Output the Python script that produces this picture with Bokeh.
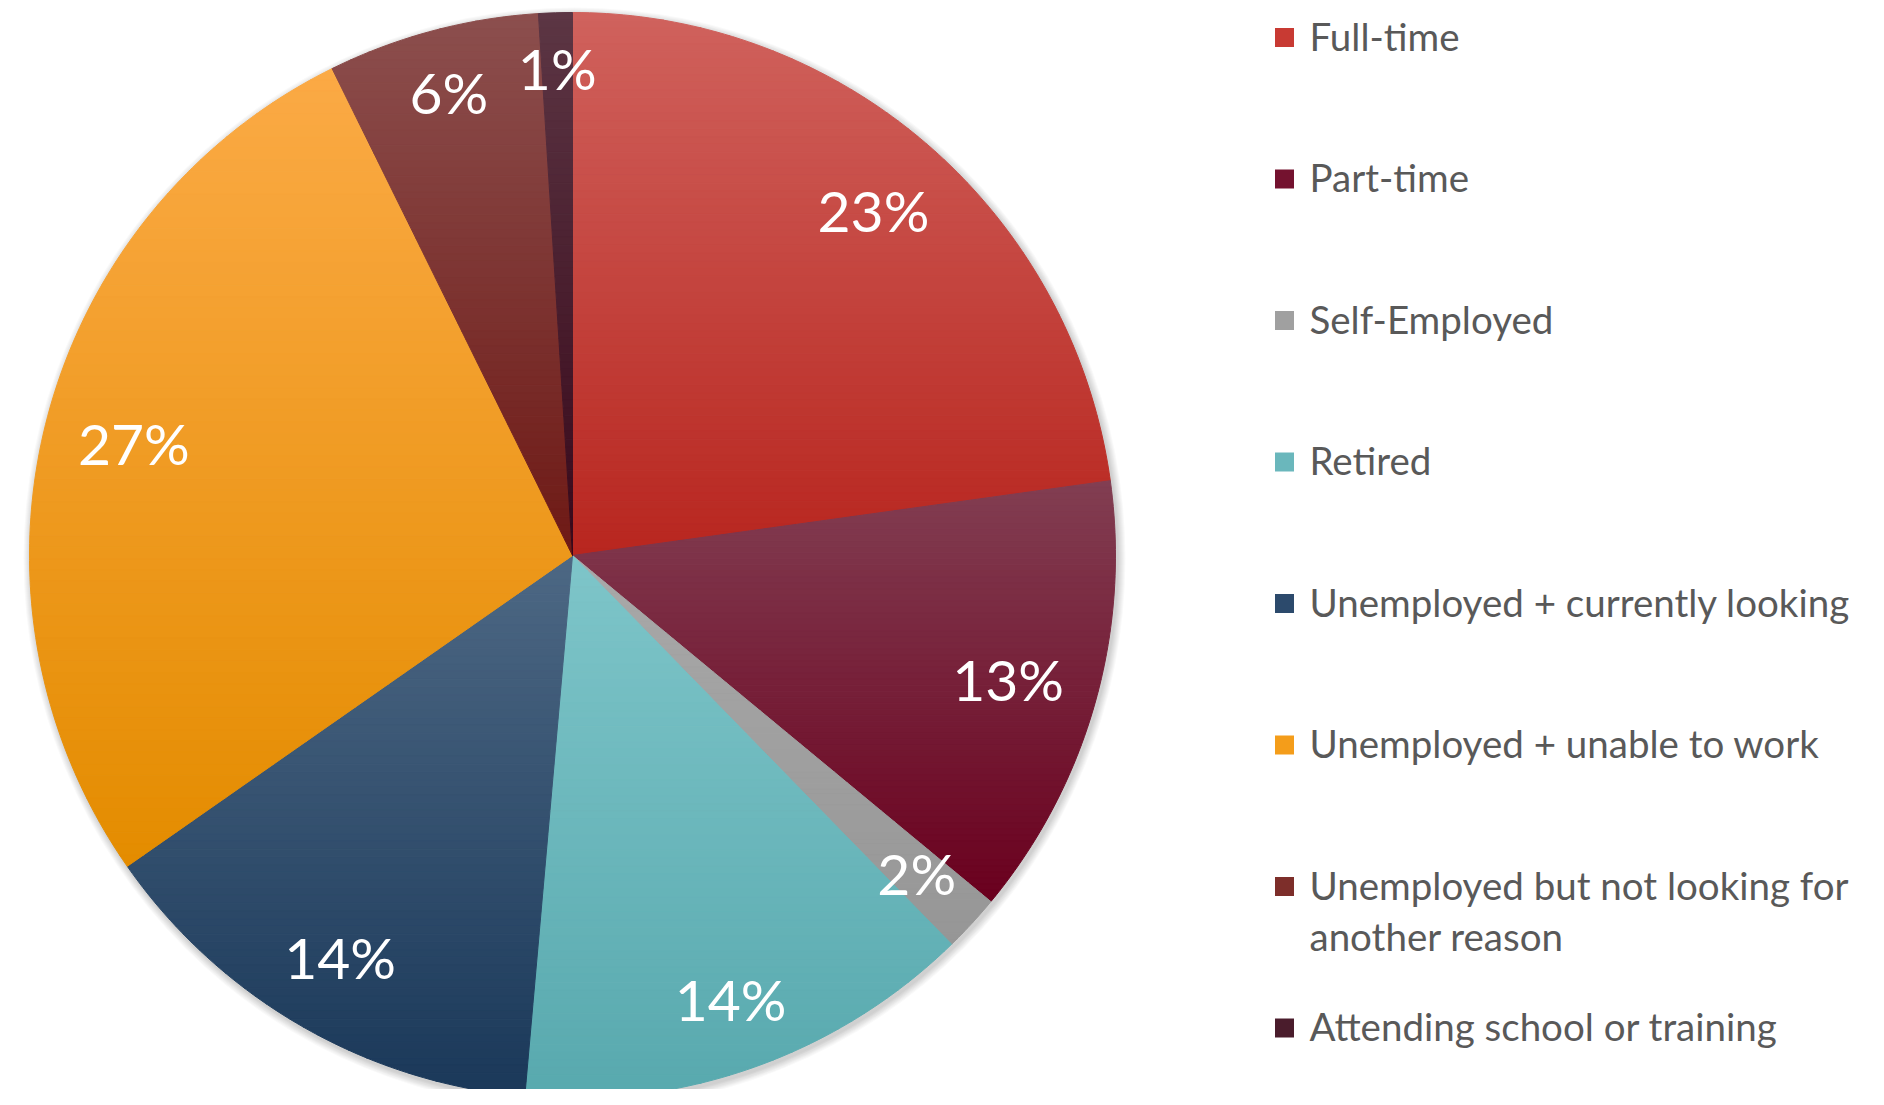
import math
from bokeh.plotting import figure
from bokeh.models import Range1d, ColumnDataSource
from bokeh.core.properties import value
from bokeh.embed import file_html
from bokeh.resources import INLINE

# ---- data ----
categories = [
    "Full-time",
    "Part-time",
    "Self-Employed",
    "Retired",
    "Unemployed + currently looking",
    "Unemployed + unable to work",
    "Unemployed but not looking for another reason",
    "Attending school or training",
]
shares = [22.8, 13.2, 1.7, 13.7, 13.9, 27.4, 6.3, 1.0]
top_colors = ["#D0625D", "#823E52", "#A9A9A9", "#7EC5C9", "#4D6884", "#FBAA45", "#8C4F4E", "#5C3644"]
bottom_colors = ["#B8261F", "#6A001E", "#969696", "#58A9AE", "#1A3859", "#E48C00", "#6E1915", "#38081A"]
legend_colors = ["#C83A33", "#74122F", "#A0A0A0", "#6AB7BC", "#2C4A6C", "#F49D1A", "#7D2E2A", "#4A1C2C"]

W, H = 1868, 1089
CX, CY, R = 572, 555, 543
LABEL_FS = 57
LEGEND_FS = 38.5

p = figure(width=W, height=H, output_backend="svg", toolbar_location=None,
           x_range=Range1d(0, W), y_range=Range1d(H, 0), min_border=0)
p.axis.visible = False
p.grid.visible = False
p.outline_line_color = None
p.background_fill_color = "white"
p.border_fill_color = "white"


def hex2rgb(h):
    h = h.lstrip("#")
    return tuple(int(h[i:i + 2], 16) for i in (0, 2, 4))


def mix(c1, c2, t):
    a, b = hex2rgb(c1), hex2rgb(c2)
    return "#%02x%02x%02x" % tuple(int(round(a[i] + (b[i] - a[i]) * t)) for i in range(3))


def clip(poly, yv, keep_below):
    out = []
    n = len(poly)
    def inside(pt):
        return pt[1] <= yv if keep_below else pt[1] >= yv
    for i in range(n):
        cur, prev = poly[i], poly[i - 1]
        ci, pi = inside(cur), inside(prev)
        if ci:
            if not pi:
                t = (yv - prev[1]) / (cur[1] - prev[1])
                out.append((prev[0] + t * (cur[0] - prev[0]), yv))
            out.append(cur)
        elif pi:
            t = (yv - prev[1]) / (cur[1] - prev[1])
            out.append((prev[0] + t * (cur[0] - prev[0]), yv))
    return out


# soft shadow
for k in range(8):
    p.scatter(x=[CX + 2], y=[CY + 3], size=2 * (R + 1 + k), fill_color="black",
              fill_alpha=0.025, line_color=None)

total = sum(shares)
xs, ys, cols = [], [], []
lab_x, lab_y, lab_t = [], [], []
cum = 0.0
NB = 70
for i, s in enumerate(shares):
    a0 = cum / total * 2 * math.pi
    a1 = (cum + s) / total * 2 * math.pi
    cum += s
    npts = max(4, int((a1 - a0) / (2 * math.pi) * 400))
    poly = [(CX, CY)]
    for j in range(npts + 1):
        a = a0 + (a1 - a0) * j / npts
        poly.append((CX + R * math.sin(a), CY - R * math.cos(a)))
    ymin = min(q[1] for q in poly)
    ymax = max(q[1] for q in poly)
    for b in range(NB):
        y0 = ymin + (ymax - ymin) * b / NB
        y1 = ymin + (ymax - ymin) * (b + 1) / NB
        band = clip(clip(poly, y0, False), y1, True)
        if len(band) < 3:
            continue
        xs.append([q[0] for q in band])
        ys.append([q[1] for q in band])
        cols.append(mix(top_colors[i], bottom_colors[i], (b + 0.5) / NB))
    # label: inside-end placement
    am = (a0 + a1) / 2
    ux, uy = math.sin(am), math.cos(am)
    txt = f"{round(s)}%"
    w = (0.56 * (len(txt) - 1) + 0.82) * LABEL_FS / 2
    h = 22
    bb = abs(ux) * w + abs(uy) * h
    c = w * w + h * h
    Rp = 512
    t = -bb + math.sqrt(bb * bb - c + Rp * Rp)
    lab_x.append(CX + t * ux)
    lab_y.append(CY - t * uy)
    lab_t.append(txt)

p.patches(xs="xs", ys="ys", source=ColumnDataSource(dict(xs=xs, ys=ys, c=cols)),
          fill_color="c", line_color="c", line_width=1)

p.text(x=lab_x, y=lab_y, text=lab_t, text_color="white", text_font=value("Lato"),
       text_font_size=f"{LABEL_FS}px", text_align="center", text_baseline="middle")

# legend
leg_y = [37 + 141.5 * i for i in range(len(categories))]
leg_lbl = []
for cat in categories:
    if cat.startswith("Unemployed but"):
        leg_lbl.append("Unemployed but not looking for\nanother reason")
    else:
        leg_lbl.append(cat)
p.rect(x=[1284] * len(categories), y=leg_y, width=19, height=19,
       fill_color=legend_colors, line_color=None)
p.text(x=[1309] * len(categories), y=[yy - 25 for yy in leg_y], text=leg_lbl,
       text_color="#595959", text_font=value("Lato"), text_font_size=f"{LEGEND_FS}px",
       text_align="left", text_baseline="top", text_line_height=1.12)

open("out.html", "w").write(file_html(p, INLINE))
